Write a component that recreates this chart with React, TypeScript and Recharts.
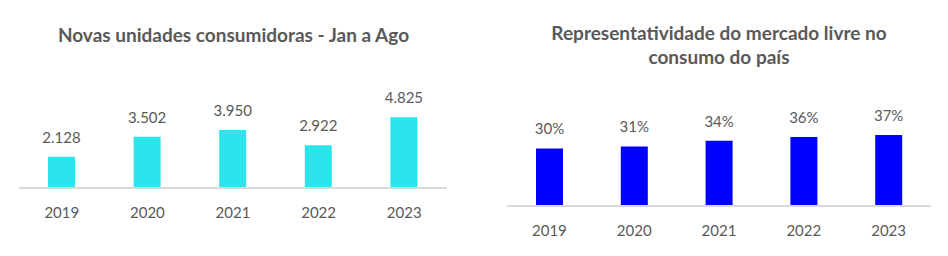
import { BarChart, Bar, XAxis, YAxis, LabelList } from "recharts";

const years = ["2019", "2020", "2021", "2022", "2023"];
const novasUnidades = [2128, 3502, 3950, 2922, 4825];
const representatividade = [30, 31, 34, 36, 37];

const FONT = "Lato, 'Open Sans', sans-serif";
const TEXT = "#595959";
const AXIS = "#d9d9d9";

const leftData = years.map((y, i) => ({ year: y, value: novasUnidades[i] }));
const rightData = years.map((y, i) => ({ year: y, value: representatividade[i] }));

// 2128 -> "2.128"
const fmtThousands = (v: any) => String(v).replace(/\B(?=(\d{3})+(?!\d))/g, ".");
const fmtPct = (v: any) => `${v}%`;

const tickStyle = { fill: TEXT, fontSize: 15, fontFamily: FONT };
const labelStyle = { fill: TEXT, fontSize: 15, fontFamily: FONT };

const titleStyle: React.CSSProperties = {
  position: "absolute",
  fontFamily: FONT,
  fontWeight: 700,
  fontSize: 19,
  color: TEXT,
  textAlign: "center",
  whiteSpace: "nowrap",
  lineHeight: "24px",
};

export default function App() {
  return (
    <div style={{ position: "fixed", left: 0, top: 0, width: 948, height: 256, background: "#fff" }}>
      <div style={{ ...titleStyle, left: 0, width: 467, top: 23 }}>
        Novas unidades consumidoras - Jan a Ago
      </div>
      <div style={{ ...titleStyle, left: 474, width: 490, top: 21 }}>
        Representatividade do mercado livre no
        <br />
        consumo do país
      </div>

      <div style={{ position: "absolute", left: 0, top: 0 }}>
        <BarChart width={474} height={256} data={leftData} margin={{ top: 100, right: 27, left: 19, bottom: 0 }}>
          <XAxis
            dataKey="year"
            height={68}
            tickLine={false}
            tickSize={0}
            tickMargin={19}
            axisLine={{ stroke: AXIS, strokeWidth: 2 }}
            tick={tickStyle}
          />
          <YAxis hide domain={[0, 6000]} />
          <Bar dataKey="value" fill="#2BE4EC" barSize={27} isAnimationActive={false}>
            <LabelList dataKey="value" position="top" offset={14} formatter={fmtThousands} style={labelStyle} />
          </Bar>
        </BarChart>
      </div>

      <div style={{ position: "absolute", left: 474, top: 0 }}>
        <BarChart width={474} height={256} data={rightData} margin={{ top: 110, right: 17, left: 33, bottom: 0 }}>
          <XAxis
            dataKey="year"
            height={50}
            tickLine={false}
            tickSize={0}
            tickMargin={19}
            axisLine={{ stroke: AXIS, strokeWidth: 2 }}
            tick={tickStyle}
          />
          <YAxis hide domain={[0, 50]} />
          <Bar dataKey="value" fill="#0000FF" barSize={27} isAnimationActive={false}>
            <LabelList dataKey="value" position="top" offset={14} formatter={fmtPct} style={labelStyle} />
          </Bar>
        </BarChart>
      </div>
    </div>
  );
}
